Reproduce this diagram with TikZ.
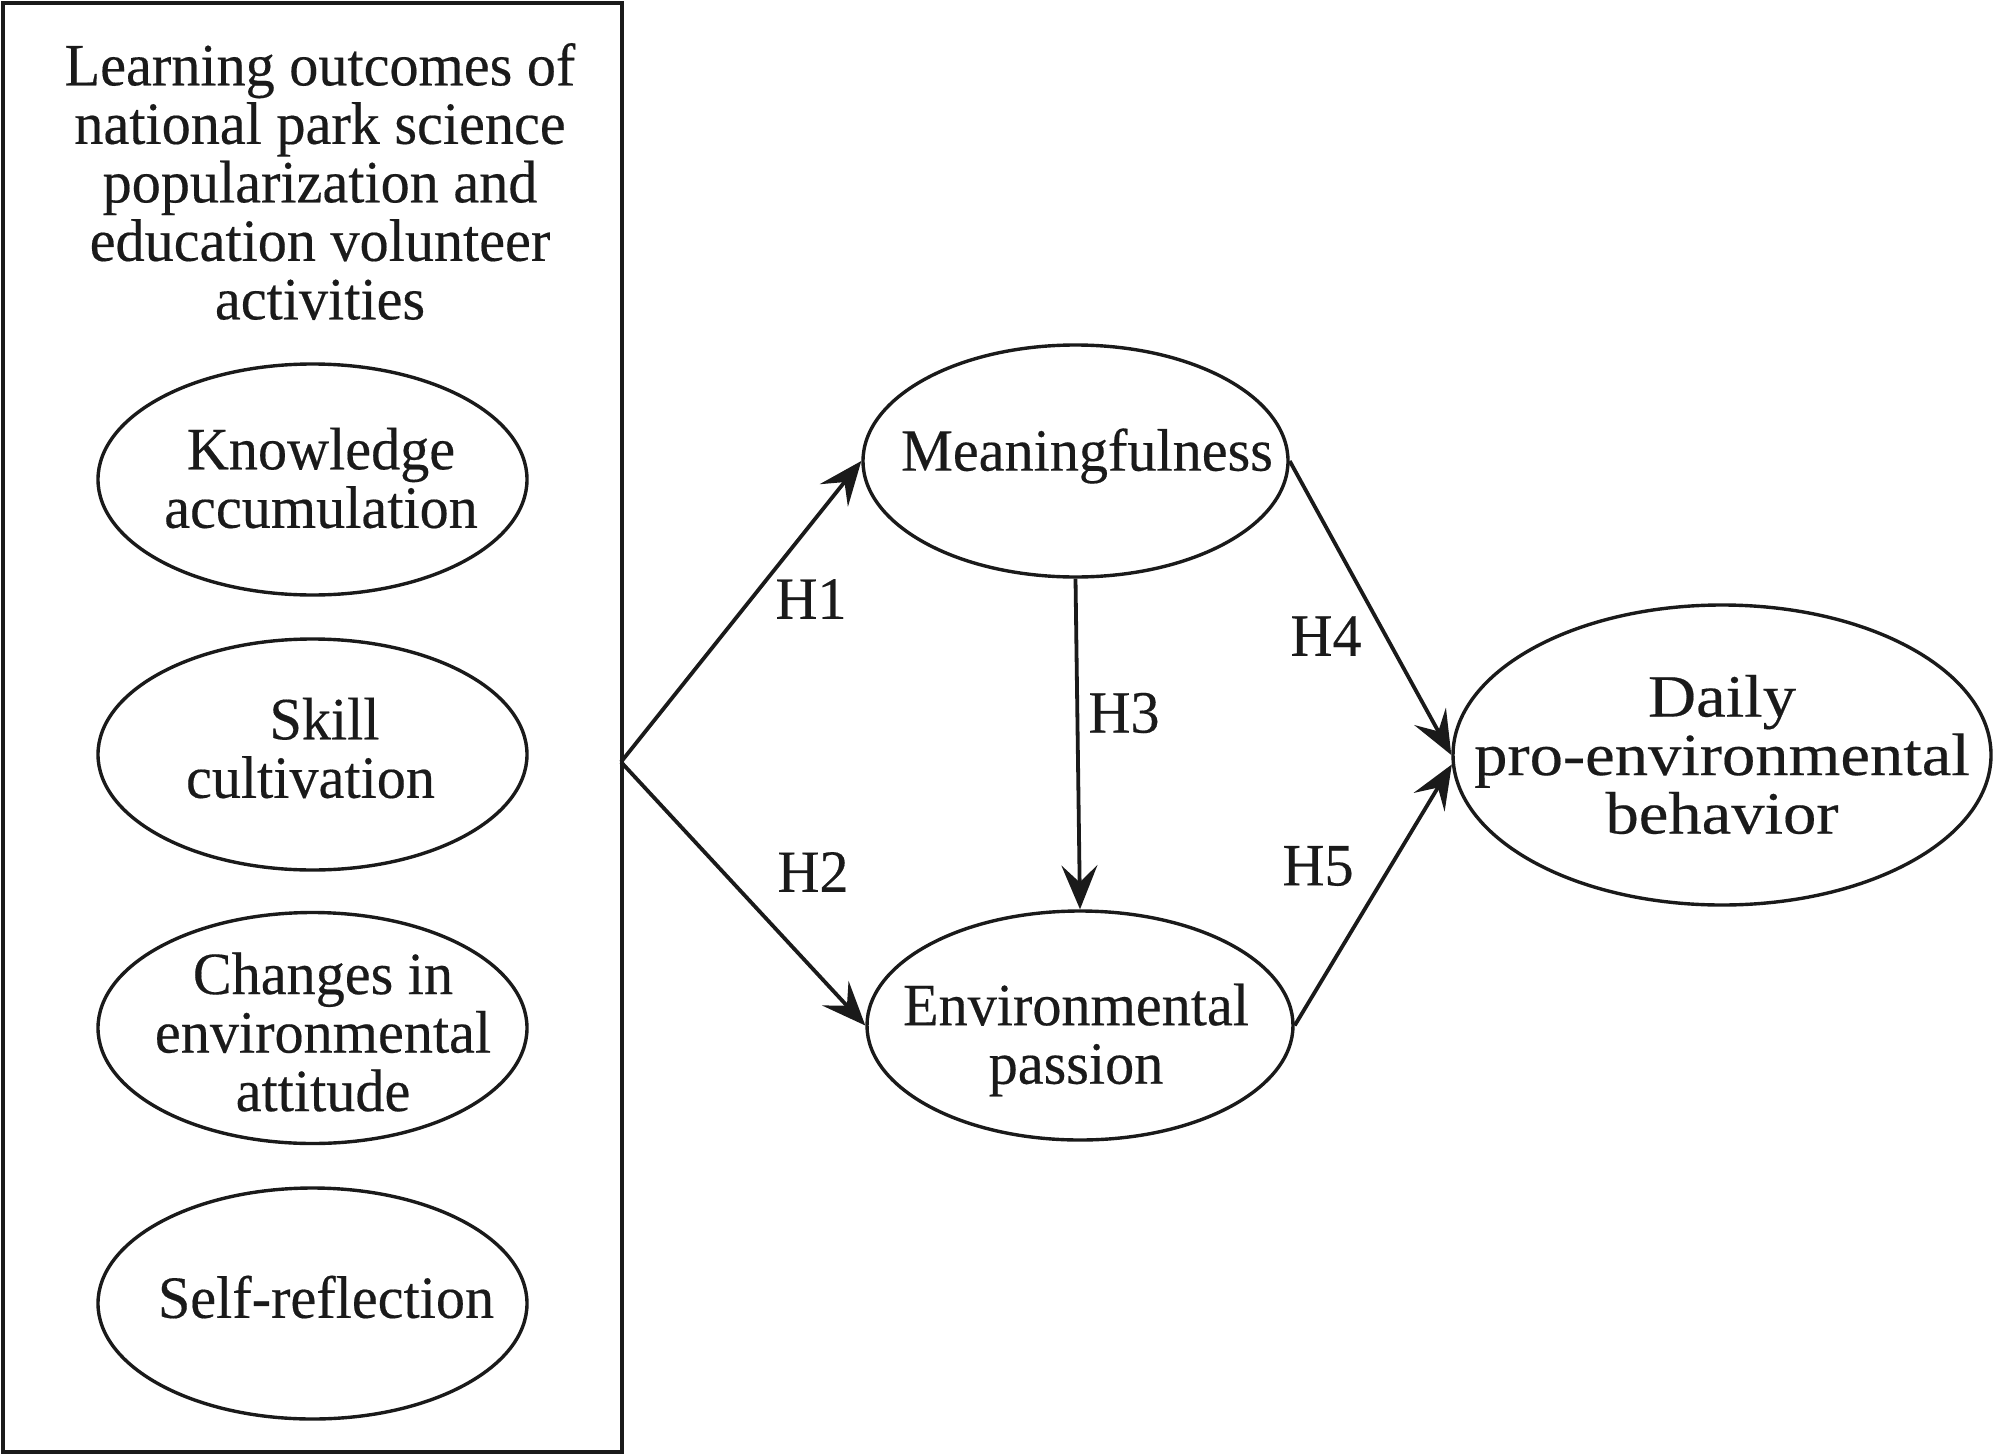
\documentclass[tikz,border=0pt]{standalone}
\usepackage{fontspec}
\setmainfont{Liberation Serif}[FakeStretch=0.97,FakeBold=0.3]
\newfontfamily\widefont{Liberation Serif}[FakeStretch=1.11,FakeBold=0.3]
\usetikzlibrary{shapes.geometric,arrows.meta}
\definecolor{ink}{HTML}{1A1A1A}
\begin{document}
\begin{tikzpicture}[x=0.5pt,y=-0.5pt,line width=1.7pt,
  font=\fontsize{30}{29.25}\selectfont,
  elli/.style={draw=ink,ellipse,inner sep=0pt,minimum width=214.5pt,minimum height=115.5pt},
  txt/.style={text=ink,align=center,inner sep=0pt},
  arr/.style={draw=ink,line width=1.9pt,-{Stealth[length=22pt,width=18pt,inset=8.5pt]}}]
\path[use as bounding box] (0,0) rectangle (1995,1455);
% outer box
\node (box) [draw=ink,rectangle,inner sep=0pt,minimum width=309.5pt,minimum height=724.5pt] at (312.5,727.5) {};
\node (title) [txt] at (320,181.5) {Learning outcomes of\\national park science\\popularization and\\education volunteer\\activities};
% left ellipses
\node (k) [elli] at (312.5,479.5) {};
\node (kt) [txt] at (321,478) {Knowledge\\accumulation};
\node (s) [elli] at (312.5,754.5) {};
\node (st) [txt] at (310.5,748) {\hspace*{14pt}Skill\\cultivation};
\node (c) [elli] at (312.5,1028) {};
\node (ct) [txt] at (323,1032) {Changes in\\environmental\\attitude};
\node (r) [elli] at (312.5,1303.5) {};
\node (rt) [txt] at (326,1297) {Self-reflection};
% middle ellipses
\node (m) [elli,minimum width=212.5pt,minimum height=116pt] at (1075.5,461) {};
\node (mt) [txt] at (1087,456) {Meaningfulness};
\node (e) [elli,minimum width=213pt,minimum height=114.5pt] at (1080,1025.5) {};
\node (et) [txt] at (1076,1040) {Environmental\\passion};
% right ellipse
\node (d) [elli,minimum width=269pt,minimum height=150pt] at (1722,755) {};
\node (dt) [txt,font=\widefont\fontsize{30}{29.25}\selectfont] at (1722,754.5) {Daily\\pro-environmental\\behavior};
% junction
\coordinate (j) at (621,762);
% arrows
\draw[arr] (j) -- (m.west);
\draw[arr] (j) -- (e.west);
\draw[arr] (m.south) -- (e.north);
\draw[arr] (m.east) -- (d.west);
\draw[arr] (e.east) -- (d.182);
% labels
\node (h1) [txt] at (811,599) {H1};
\node (h2) [txt] at (813,872) {H2};
\node (h3) [txt] at (1124,713) {H3};
\node (h4) [txt] at (1326,636) {H4};
\node (h5) [txt] at (1318,866) {H5};
\end{tikzpicture}
\end{document}
